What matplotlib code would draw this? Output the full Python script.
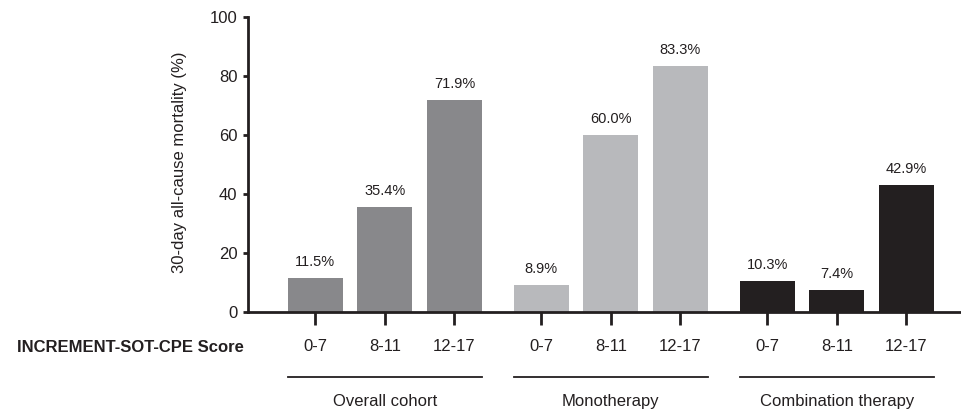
import matplotlib
matplotlib.use("Agg")
import matplotlib.pyplot as plt
from matplotlib.transforms import blended_transform_factory

plt.rcParams['font.family'] = ['Liberation Sans', 'DejaVu Sans']

groups = ["Overall cohort", "Monotherapy", "Combination therapy"]
score_labels = ["0-7", "8-11", "12-17"]
values = {
    "Overall cohort": [11.5, 35.4, 71.9],
    "Monotherapy": [8.9, 60.0, 83.3],
    "Combination therapy": [10.3, 7.4, 42.9],
}
colors = {
    "Overall cohort": "#88888b",
    "Monotherapy": "#b8b9bc",
    "Combination therapy": "#231f20",
}
y_ticks = [0, 20, 40, 60, 80, 100]

fig = plt.figure(figsize=(9.62, 4.12), dpi=100)
H = 412.0
W = 962.0
ax = fig.add_axes([248 / W, (H - 311.7) / H, (W - 248) / W, 294.7 / H])

group_step = 3.25
bar_w = 0.79
xt, xl = [], []
trans = blended_transform_factory(ax.transData, ax.transAxes)
for gi, g in enumerate(groups):
    xs = [gi * group_step + i for i in range(3)]
    ax.bar(xs, values[g], width=bar_w, color=colors[g], zorder=2)
    for x, v in zip(xs, values[g]):
        ax.annotate(f"{v:.1f}%", (x, v), xytext=(0, 6.5), textcoords="offset points",
                    ha="center", va="bottom", fontsize=10.5, color="#231f20")
    xt += xs
    xl += score_labels
    ax.plot([xs[0] - bar_w / 2, xs[-1] + bar_w / 2], [-0.223, -0.223], transform=trans,
            color="#231f20", lw=1.3, clip_on=False)
    ax.text((xs[0] + xs[-1]) / 2, -0.306, g, transform=trans, ha="center", va="center",
            fontsize=12, color="#231f20")

ax.set_xlim(-0.97, 9.3)
ax.set_ylim(0, 100)
ax.set_yticks(y_ticks)
ax.set_xticks(xt)
ax.set_xticklabels(xl)
ax.tick_params(axis="x", length=9, width=2, pad=11, labelsize=12, colors="#231f20")
ax.tick_params(axis="y", length=3.5, width=2, pad=4, labelsize=12, colors="#231f20")
for s in ["top", "right"]:
    ax.spines[s].set_visible(False)
for s in ["left", "bottom"]:
    ax.spines[s].set_linewidth(2)
    ax.spines[s].set_color("#231f20")
ax.set_ylabel("30-day all-cause mortality (%)", fontsize=12, color="#231f20")
ax.yaxis.set_label_coords((187 - 248) / (W - 248), (311.7 - 162.5) / 294.7)

fig.text(244 / W, (H - 347) / H, "INCREMENT-SOT-CPE Score", ha="right", va="center",
         fontsize=12, fontweight="bold", color="#231f20")

fig.savefig("out.png", dpi=100)
